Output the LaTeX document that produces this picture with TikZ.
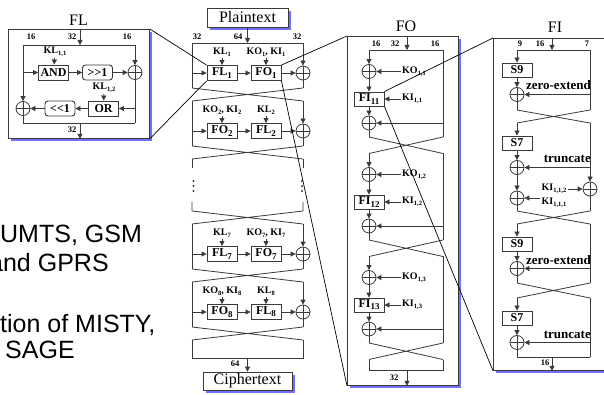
\documentclass[tikz,border=0pt]{standalone}
\usepackage{fontspec}
\setmainfont{Liberation Serif}
\newfontfamily\slidefont{Liberation Sans}
\usetikzlibrary{positioning,calc,arrows.meta,shadows}
\definecolor{shade}{HTML}{7272F4}
\definecolor{wire}{HTML}{3A3A3A}
\newcommand{\subidx}[1]{\raisebox{-0.45ex}{\fontsize{6.5}{6.5}\selectfont #1}}
\newcommand{\bsub}[1]{\raisebox{-0.4ex}{\fontsize{9}{9}\selectfont #1}}
\tikzset{
  fbox/.style={draw=wire, line width=0.9pt, fill=white, inner sep=0pt,
               minimum width=30pt, minimum height=15pt,
               font=\bfseries\fontsize{12}{12}\selectfont},
  rbox/.style={fbox, rounded corners=3pt},
  sbox/.style={fbox, minimum height=14pt},
  frame/.style={draw=wire, line width=0.8pt, fill=white, inner sep=0pt,
                drop shadow={shadow xshift=3pt, shadow yshift=-3pt,
                             fill=shade, opacity=1}},
  xor/.style={circle, draw=wire, line width=0.8pt, minimum size=14pt, inner sep=0pt,
              path picture={\draw[wire, line width=0.8pt]
                (path picture bounding box.north) -- (path picture bounding box.south)
                (path picture bounding box.west) -- (path picture bounding box.east);}},
  ln/.style={line width=0.8pt, draw=wire},
  arr/.style={ln, -{Triangle[length=5pt,width=5pt]}},
  zoomln/.style={line width=0.7pt, draw=black},
  klab/.style={font=\bfseries\fontsize{10}{10}\selectfont, inner sep=1pt},
  elab/.style={font=\bfseries\fontsize{13}{13}\selectfont, inner sep=0pt, anchor=base east},
  wlab/.style={font=\bfseries\fontsize{8.5}{8.5}\selectfont, inner sep=0pt},
  ttl/.style={font=\fontsize{16}{16}\selectfont},
  slide/.style={font=\slidefont\fontsize{25}{25}\selectfont, anchor=base west, inner sep=0pt},
}
\begin{document}
\begin{tikzpicture}[x=1pt,y=-1pt]
\useasboundingbox (0,0) rectangle (604,395);
% slide text behind the figure
\node[slide] (t1) at (0,242) {UMTS, GSM};
\node[slide] (t2) at (-11,271) {and GPRS};
\node[slide] (t3) at (0,332) {tion of MISTY,};
\node[slide] (t4) at (5,358) {SAGE};

% frames
\node[frame, anchor=north west, minimum width=141pt, minimum height=109pt] (flframe) at (8,29) {};
\node[frame, anchor=north west, minimum width=111pt, minimum height=349pt] (foframe) at (347,36) {};
\node[frame, anchor=north west, minimum width=120pt, minimum height=332pt] (fiframe) at (493,38) {};
\node[frame, minimum width=81pt, minimum height=19pt, ttl] (plain) at (247.5,17.5) {Plaintext};
\node[frame, minimum width=89pt, minimum height=18pt, ttl] (cipher) at (247.5,381) {Ciphertext};
\node[ttl] (fltitle) at (78.5,20) {FL};
\node[ttl] (fotitle) at (406,26) {FO};
\node[ttl] (fititle) at (555,27) {FI};

% ---- FL function
\coordinate (flTL) at (23,45);
\coordinate (flTR) at (135,45);
\coordinate (flBL) at (23,123);
\coordinate (flBR) at (135,123);
\coordinate (flin) at (80,45);
\coordinate (flout) at (80,123);
\node[fbox] (and) at (53.5,72.5) {AND};
\node[rbox] (shr) at (97.5,72.5) {{>}{>}1};
\node[xor] (flx1) at (135,72.5) {};
\node[fbox] (or) at (103.5,108.5) {OR};
\node[rbox] (shl) at (60,108.5) {{<}{<}1};
\node[xor] (flx2) at (23,108.5) {};
\node[klab] (kl11) at (55,52) {KL\subidx{1,1}};
\node[klab] (kl12) at (104,88) {KL\subidx{1,2}};
\node[wlab] (flw1) at (31,37) {16};
\node[wlab] (flw2) at (72,37) {32};
\node[wlab] (flw3) at (127,37) {16};
\node[wlab] (flw4) at (72,130) {32};
\draw[arr] (flin |- flframe.north) -- (flin);
\draw[ln] (flTL) -- (flTR);
\draw[arr] (flTL) -- (flx2);
\draw[arr] (flTL |- and) -- (and);
\draw[arr] (kl11) -- (and);
\draw[arr] (and) -- (shr);
\draw[arr] (shr) -- (flx1);
\draw[arr] (flTR) -- (flx1);
\draw[ln] (flx1) -- (flBR);
\draw[arr] (kl12) -- (or);
\draw[arr] (flBR |- or) -- (or);
\draw[arr] (or) -- (shl);
\draw[arr] (shl) -- (flx2);
\draw[ln] (flx2) -- (flBL) -- (flBR);
\draw[arr] (flout) -- (flout |- flframe.south);

% ---- main KASUMI column
\node[wlab] (mw1) at (197,37) {32};
\node[wlab] (mw2) at (238,37) {64};
\node[wlab] (mw3) at (297,37) {32};
\node[wlab] (mw4) at (235,364) {64};
\foreach \rn/\yt/\fa/\fb/\ka/\kb in
   {1/43/FL/FO/{KL\subidx{1}}/{KO\subidx{1}, KI\subidx{1}},
    2/101/FO/FL/{KO\subidx{2}, KI\subidx{2}}/{KL\subidx{2}},
    7/224/FL/FO/{KL\subidx{7}}/{KO\subidx{7}, KI\subidx{7}},
    8/282/FO/FL/{KO\subidx{8}, KI\subidx{8}}/{KL\subidx{8}}}{
  \coordinate (mtl\rn) at (192,\yt);
  \coordinate (mtr\rn) at (303,\yt);
  \coordinate (mbl\rn) at (192,\yt+45);
  \coordinate (mbr\rn) at (303,\yt+45);
  \node[fbox] (ma\rn) at (222,\yt+30) {\fa\bsub{\rn}};
  \node[fbox] (mb\rn) at (266,\yt+30) {\fb\bsub{\rn}};
  \node[xor] (mx\rn) at (303,\yt+30) {};
  \node[klab] (mka\rn) at (222,\yt+9) {\ka};
  \node[klab] (mkb\rn) at (266,\yt+9) {\kb};
  \draw[ln] (mtl\rn) -- (mbl\rn);
  \draw[arr] (mtl\rn |- ma\rn) -- (ma\rn);
  \draw[arr] (ma\rn) -- (mb\rn);
  \draw[arr] (mb\rn) -- (mx\rn);
  \draw[arr] (mtr\rn) -- (mx\rn);
  \draw[ln] (mx\rn) -- (mbr\rn);
  \draw[arr] (mka\rn) -- (ma\rn);
  \draw[arr] (mkb\rn) -- (mb\rn);
  \draw[ln] (mbl\rn) -- ++(111,13) (mbr\rn) -- ++(-111,13);
}
\draw[ln] (mtl1) -- (mtr1);
\draw[arr] (plain) -- (plain.south |- mtl1);
% gap between round 2 and round 7
\draw[ln] (192,159) -- (192,168) (303,159) -- (303,168);
\foreach \yy in {181,186,191}
  \fill[wire] (193.5,\yy) circle (1.2) (302,\yy) circle (1.2);
\draw[ln] (192,202) -- (192,211) -- (303,224) (303,202) -- (303,211) -- (192,224);
% output
\coordinate (mend l) at (192,358);
\coordinate (mend r) at (303,358);
\draw[ln] (192,340) -- (mend l) -- (mend r) -- (303,340);
\draw[arr] (cipher.north |- mend l) -- (cipher);

% ---- FO function
\coordinate (foin) at (407,50);
\coordinate (foout) at (407,370);
\node[wlab] (fow1) at (376,44) {16};
\node[wlab] (fow2) at (395,44) {32};
\node[wlab] (fow3) at (435,44) {16};
\node[wlab] (fow4) at (394,378) {32};
\foreach \rn/\yt in {1/50,2/153,3/256}{
  \coordinate (otl\rn) at (369,\yt);
  \coordinate (otr\rn) at (443,\yt);
  \coordinate (obl\rn) at (369,\yt+87);
  \coordinate (obr\rn) at (443,\yt+87);
  \node[xor] (oxa\rn) at (369,\yt+21.5) {};
  \node[sbox] (ofi\rn) at (369,\yt+49) {FI\bsub{1\rn}};
  \node[xor] (oxb\rn) at (369,\yt+73) {};
  \node[klab, anchor=west] (oko\rn) at (401,\yt+21.5) {KO\subidx{1,\rn}};
  \node[klab, anchor=west] (oki\rn) at (401,\yt+49) {KI\subidx{1,\rn}};
  \draw[arr] (otl\rn) -- (oxa\rn);
  \draw[arr] (oko\rn) -- (oxa\rn);
  \draw[arr] (oxa\rn) -- (ofi\rn);
  \draw[arr] (oki\rn) -- (ofi\rn);
  \draw[arr] (ofi\rn) -- (oxb\rn);
  \draw[ln] (oxb\rn) -- (obl\rn);
  \draw[ln] (otr\rn) -- (obr\rn);
  \draw[arr] (otr\rn |- oxb\rn) -- (oxb\rn);
  \draw[ln] (obl\rn) -- ++(74,16.5) (obr\rn) -- ++(-74,16.5);
}
\draw[ln] (otl1) -- (otr1);
\draw[arr] (foin |- foframe.north) -- (foin);
\draw[ln] (369,359.5) -- (369,370) -- (443,370) -- (443,359.5);
\draw[arr] (foout) -- (foout |- foframe.south);

% ---- FI function
\coordinate (fiin) at (552,50);
\coordinate (fiout) at (552,357);
\node[wlab] (fiw1) at (520,44) {9};
\node[wlab] (fiw2) at (540,44) {16};
\node[wlab] (fiw3) at (587,44) {7};
\node[wlab] (fiw4) at (545,363) {16};
\foreach \st/\yt/\yb/\yn/\sn/\ext in
   {1/50/110/123/9/zero-extend, 2/123/211/224/7/truncate,
    3/224/283/298/9/zero-extend, 4/298/357/357/7/truncate}{
  \coordinate (ftl\st) at (517,\yt);
  \coordinate (ftr\st) at (590,\yt);
  \coordinate (fbl\st) at (517,\yb);
  \coordinate (fbr\st) at (590,\yb);
  \node[sbox] (fs\st) at (517,\yt+20) {S\sn};
  \node[xor] (fxa\st) at (517,\yt+44.5) {};
  \node[elab] (fe\st) at (591,\yt+40) {\ext};
  \draw[arr] (ftl\st) -- (fs\st);
  \draw[arr] (fs\st) -- (fxa\st);
  \draw[arr] (ftr\st |- fxa\st) -- (fxa\st);
  \ifnum\st<4 \draw[ln] (fbl\st) -- (590,\yn) (fbr\st) -- (517,\yn); \fi
}
\node[xor] (frx) at (590,189) {};
\node[xor] (flx) at (517,198) {};
\node[klab] (fki112) at (554,189) {KI\subidx{1,1,2}};
\node[klab] (fki111) at (554,203) {KI\subidx{1,1,1}};
\draw[ln] (ftl1) -- (ftr1);
\draw[arr] (fiin |- fiframe.north) -- (fiin);
\draw[ln] (ftr1) -- (fbr1);
\draw[arr] (ftr2) -- (frx);
\draw[ln] (frx) -- (fbr2);
\draw[ln] (ftr3) -- (fbr3);
\draw[ln] (ftr4) -- (fbr4);
\draw[ln] (fxa1) -- (fbl1);
\draw[arr] (fxa2) -- (flx);
\draw[ln] (flx) -- (fbl2);
\draw[ln] (fxa3) -- (fbl3);
\draw[ln] (fxa4) -- (fbl4) -- (fbr4);
\draw[arr] (fki112) -- (frx);
\draw[arr] (fki111.west |- flx) -- (flx);
\draw[arr] (fiout) -- (fiout |- fiframe.south);

% zoom lines
\draw[zoomln] (flframe.north east) -- (ma1.north west);
\draw[zoomln] (flframe.south east) -- (ma1.south west);
\draw[zoomln] (mb1.north east) -- (foframe.north west);
\draw[zoomln] (mb1.south east) -- (foframe.south west);
\draw[zoomln] (ofi1.north east) -- (fiframe.north west);
\draw[zoomln] (ofi1.south east) -- (fiframe.south west);
\end{tikzpicture}
\end{document}
